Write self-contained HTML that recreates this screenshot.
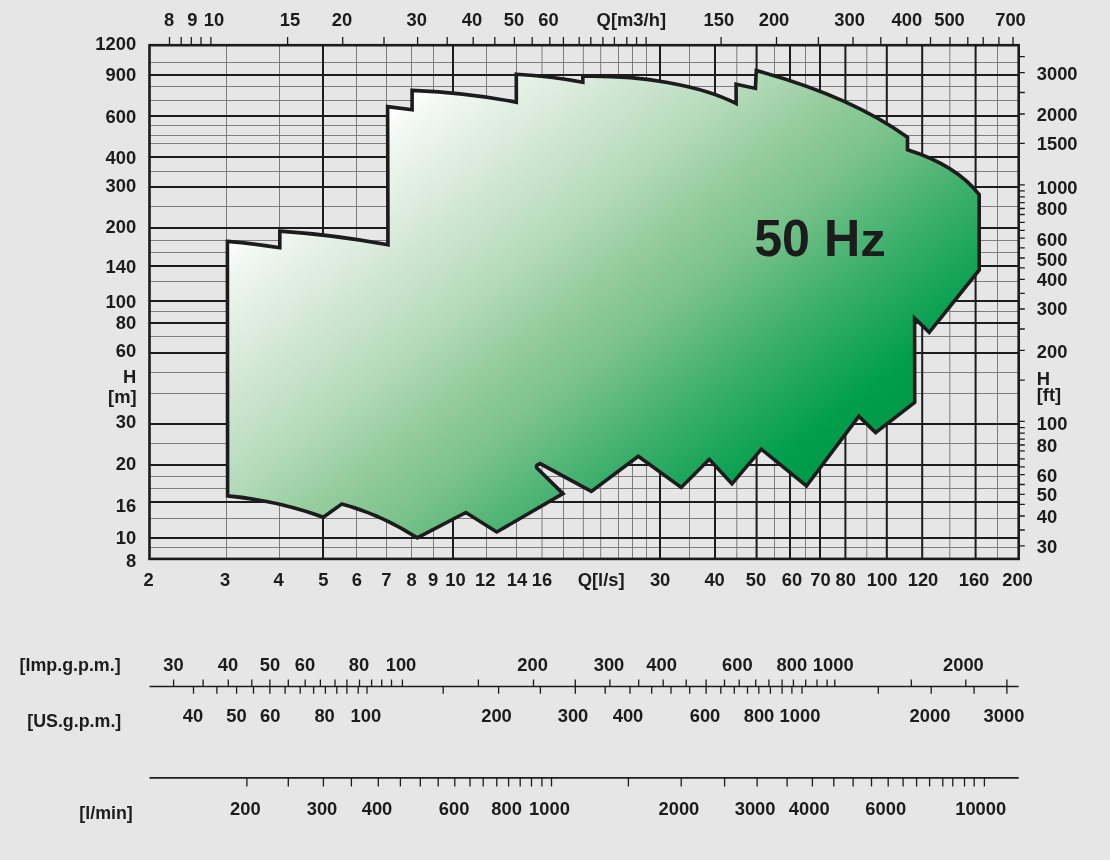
<!DOCTYPE html><html><head><meta charset="utf-8"><style>
html,body{margin:0;padding:0;background:#e6e6e6;}
svg{display:block;}
text{font-family:"Liberation Sans",Arial,Helvetica,sans-serif;font-weight:bold;fill:#1c1c1c;}
</style></head><body>
<svg width="1110" height="860" viewBox="0 0 1110 860">
<defs><linearGradient id="g" gradientUnits="userSpaceOnUse" x1="204.5" y1="259.0" x2="545.4" y2="690.6"><stop offset="0.000" stop-color="#ffffff"/><stop offset="0.045" stop-color="#f1f7f2"/><stop offset="0.220" stop-color="#d1e6d3"/><stop offset="0.355" stop-color="#b5dbbb"/><stop offset="0.476" stop-color="#96cc9e"/><stop offset="0.593" stop-color="#7ac28b"/><stop offset="0.747" stop-color="#40b06e"/><stop offset="0.935" stop-color="#009e4d"/><stop offset="1.000" stop-color="#009a48"/></linearGradient></defs>
<rect width="1110" height="860" fill="#e6e6e6"/>
<path d="M149.5 62.50H1018.7M149.5 86.50H1018.7M149.5 100.50H1018.7M149.5 125.50H1018.7M149.5 135.50H1018.7M149.5 143.50H1018.7M149.5 171.50H1018.7M149.5 206.50H1018.7M149.5 240.50H1018.7M149.5 252.50H1018.7M149.5 281.50H1018.7M149.5 311.50H1018.7M149.5 336.50H1018.7M149.5 372.50H1018.7M149.5 393.50H1018.7M149.5 443.50H1018.7M149.5 476.50H1018.7M149.5 488.50H1018.7M149.5 518.50H1018.7M149.5 547.50H1018.7M226.50 45.2V558.9M279.50 45.2V558.9M356.50 45.2V558.9M386.50 45.2V558.9M411.50 45.2V558.9M433.50 45.2V558.9M486.50 45.2V558.9M516.50 45.2V558.9M542.00 45.2V558.9M563.50 45.2V558.9M583.30 45.2V558.9M600.70 45.2V558.9M618.50 45.2V558.9M632.50 45.2V558.9M646.50 45.2V558.9M689.50 45.2V558.9M736.80 45.2V558.9M774.50 45.2V558.9M805.50 45.2V558.9M866.80 45.2V558.9M949.80 45.2V558.9M997.50 45.2V558.9" stroke="#7d7d7d" stroke-width="1" fill="none"/>
<path d="M149.5 75.00H1018.7M149.5 116.00H1018.7M149.5 157.00H1018.7M149.5 187.00H1018.7M149.5 228.00H1018.7M149.5 266.00H1018.7M149.5 301.00H1018.7M149.5 323.00H1018.7M149.5 353.00H1018.7M149.5 424.00H1018.7M149.5 465.00H1018.7M149.5 502.00H1018.7M149.5 538.00H1018.7M323.00 45.2V558.9M453.00 45.2V558.9M660.00 45.2V558.9M715.00 45.2V558.9M756.60 45.2V558.9M790.00 45.2V558.9M820.00 45.2V558.9M845.40 45.2V558.9M886.80 45.2V558.9M922.20 45.2V558.9M975.60 45.2V558.9" stroke="#1c1c1c" stroke-width="2" fill="none"/>
<rect x="149.5" y="45.2" width="869.2" height="513.7" fill="none" stroke="#1c1c1c" stroke-width="2.6"/>
<path d="M169.50 37V45.2M181.20 37V45.2M191.30 37V45.2M201.00 37V45.2M210.90 37V45.2M287.60 37V45.2M342.70 37V45.2M384.00 37V45.2M417.60 37V45.2M447.20 37V45.2M473.20 37V45.2M494.80 37V45.2M514.40 37V45.2M532.20 37V45.2M549.80 37V45.2M563.40 37V45.2M579.20 37V45.2M590.80 37V45.2M602.90 37V45.2M614.40 37V45.2M626.80 37V45.2M636.60 37V45.2M646.10 37V45.2M721.10 37V45.2M776.50 37V45.2M818.40 37V45.2M853.00 37V45.2M880.80 37V45.2M906.80 37V45.2M930.50 37V45.2M950.00 37V45.2M967.80 37V45.2M983.20 37V45.2M998.90 37V45.2M1013.00 37V45.2M1018.7 56.70H1024.8M1018.7 72.60H1024.8M1018.7 92.50H1024.8M1018.7 114.00H1024.8M1018.7 143.30H1024.8M1018.7 184.80H1024.8M1018.7 190.80H1024.8M1018.7 196.90H1024.8M1018.7 202.60H1024.8M1018.7 208.50H1024.8M1018.7 214.50H1024.8M1018.7 222.40H1024.8M1018.7 230.40H1024.8M1018.7 238.20H1024.8M1018.7 247.80H1024.8M1018.7 258.00H1024.8M1018.7 267.80H1024.8M1018.7 279.40H1024.8M1018.7 293.30H1024.8M1018.7 309.00H1024.8M1018.7 329.00H1024.8M1018.7 350.30H1024.8M1018.7 380.20H1024.8M1018.7 421.30H1024.8M1018.7 427.60H1024.8M1018.7 433.10H1024.8M1018.7 439.10H1024.8M1018.7 445.00H1024.8M1018.7 450.90H1024.8M1018.7 458.80H1024.8M1018.7 466.80H1024.8M1018.7 474.70H1024.8M1018.7 484.50H1024.8M1018.7 494.40H1024.8M1018.7 504.30H1024.8M1018.7 516.00H1024.8M1018.7 530.00H1024.8M1018.7 545.80H1024.8" stroke="#1c1c1c" stroke-width="1.3" fill="none"/>
<path d="M227.4 241.4 Q253 243.5 279.8 247.7 L279.8 231.1 Q336 235 388 244.8 L387.6 106.6 L412.1 109.7 L412.1 90.4 Q470 93 516.3 102.2 L516.3 74.2 Q552 76.2 582.8 82.3 L582.8 76.2 C640 75 700 85 736.1 103.5 L736.1 84.2 L755.4 88.4 L756.3 70.5 C820 88 870 110 907.5 137.3 L907.5 149.7 C940 160 965 176 979.2 194.7 L979.2 270 L929.2 332.4 L914.6 318.2 L914.7 402.3 L875.6 432.6 L858.8 416.3 L806.5 486 L761.3 449.2 L732 483.9 L709.3 459.3 L681.2 487.4 L638.3 456.2 L591.4 491.4 L540 463.6 Q534.8 465.6 537.2 468.2 L563 493.6 L496.7 532 L465.9 512.5 L417.2 537.8 Q380 514 341.6 504.1 L323.3 517.3 Q280 501 227.6 495.9 Z" fill="url(#g)" stroke="#1c1c1c" stroke-width="3.6" stroke-linejoin="miter" stroke-miterlimit="10"/>
<text transform="translate(820 255.8) scale(0.985 1)" font-size="51" text-anchor="middle">50 H<tspan font-size="46.5" textLength="26" lengthAdjust="spacingAndGlyphs">z</tspan></text>
<text transform="translate(169.0 25.8) scale(1.050 1)" font-size="17.5" text-anchor="middle">8</text>
<text transform="translate(192.4 25.8) scale(1.050 1)" font-size="17.5" text-anchor="middle">9</text>
<text transform="translate(214.0 25.8) scale(1.050 1)" font-size="17.5" text-anchor="middle">10</text>
<text transform="translate(290.0 25.8) scale(1.050 1)" font-size="17.5" text-anchor="middle">15</text>
<text transform="translate(342.0 25.8) scale(1.050 1)" font-size="17.5" text-anchor="middle">20</text>
<text transform="translate(416.8 25.8) scale(1.050 1)" font-size="17.5" text-anchor="middle">30</text>
<text transform="translate(472.0 25.8) scale(1.050 1)" font-size="17.5" text-anchor="middle">40</text>
<text transform="translate(514.0 25.8) scale(1.050 1)" font-size="17.5" text-anchor="middle">50</text>
<text transform="translate(548.5 25.8) scale(1.050 1)" font-size="17.5" text-anchor="middle">60</text>
<text transform="translate(631.3 25.8) scale(1.050 1)" font-size="17.5" text-anchor="middle">Q[m3/h]</text>
<text transform="translate(718.8 25.8) scale(1.050 1)" font-size="17.5" text-anchor="middle">150</text>
<text transform="translate(774.0 25.8) scale(1.050 1)" font-size="17.5" text-anchor="middle">200</text>
<text transform="translate(849.7 25.8) scale(1.050 1)" font-size="17.5" text-anchor="middle">300</text>
<text transform="translate(906.8 25.8) scale(1.050 1)" font-size="17.5" text-anchor="middle">400</text>
<text transform="translate(949.5 25.8) scale(1.050 1)" font-size="17.5" text-anchor="middle">500</text>
<text transform="translate(1010.5 25.8) scale(1.050 1)" font-size="17.5" text-anchor="middle">700</text>
<text transform="translate(148.5 586.3) scale(1.050 1)" font-size="17.5" text-anchor="middle">2</text>
<text transform="translate(225.2 586.3) scale(1.050 1)" font-size="17.5" text-anchor="middle">3</text>
<text transform="translate(278.7 586.3) scale(1.050 1)" font-size="17.5" text-anchor="middle">4</text>
<text transform="translate(323.3 586.3) scale(1.050 1)" font-size="17.5" text-anchor="middle">5</text>
<text transform="translate(356.9 586.3) scale(1.050 1)" font-size="17.5" text-anchor="middle">6</text>
<text transform="translate(386.4 586.3) scale(1.050 1)" font-size="17.5" text-anchor="middle">7</text>
<text transform="translate(411.7 586.3) scale(1.050 1)" font-size="17.5" text-anchor="middle">8</text>
<text transform="translate(433.2 586.3) scale(1.050 1)" font-size="17.5" text-anchor="middle">9</text>
<text transform="translate(455.4 586.3) scale(1.050 1)" font-size="17.5" text-anchor="middle">10</text>
<text transform="translate(485.2 586.3) scale(1.050 1)" font-size="17.5" text-anchor="middle">12</text>
<text transform="translate(516.9 586.3) scale(1.050 1)" font-size="17.5" text-anchor="middle">14</text>
<text transform="translate(542.0 586.3) scale(1.050 1)" font-size="17.5" text-anchor="middle">16</text>
<text transform="translate(601.1 586.3) scale(1.050 1)" font-size="17.5" text-anchor="middle">Q[l/s]</text>
<text transform="translate(660.1 586.3) scale(1.050 1)" font-size="17.5" text-anchor="middle">30</text>
<text transform="translate(714.6 586.3) scale(1.050 1)" font-size="17.5" text-anchor="middle">40</text>
<text transform="translate(756.0 586.3) scale(1.050 1)" font-size="17.5" text-anchor="middle">50</text>
<text transform="translate(791.9 586.3) scale(1.050 1)" font-size="17.5" text-anchor="middle">60</text>
<text transform="translate(820.5 586.3) scale(1.050 1)" font-size="17.5" text-anchor="middle">70</text>
<text transform="translate(845.7 586.3) scale(1.050 1)" font-size="17.5" text-anchor="middle">80</text>
<text transform="translate(882.2 586.3) scale(1.050 1)" font-size="17.5" text-anchor="middle">100</text>
<text transform="translate(923.0 586.3) scale(1.050 1)" font-size="17.5" text-anchor="middle">120</text>
<text transform="translate(974.0 586.3) scale(1.050 1)" font-size="17.5" text-anchor="middle">160</text>
<text transform="translate(1017.5 586.3) scale(1.050 1)" font-size="17.5" text-anchor="middle">200</text>
<text transform="translate(136.2 50.4) scale(1.050 1)" font-size="17.5" text-anchor="end">1200</text>
<text transform="translate(136.2 80.6) scale(1.050 1)" font-size="17.5" text-anchor="end">900</text>
<text transform="translate(136.2 123.4) scale(1.050 1)" font-size="17.5" text-anchor="end">600</text>
<text transform="translate(136.2 163.9) scale(1.050 1)" font-size="17.5" text-anchor="end">400</text>
<text transform="translate(136.2 192.3) scale(1.050 1)" font-size="17.5" text-anchor="end">300</text>
<text transform="translate(136.2 233.2) scale(1.050 1)" font-size="17.5" text-anchor="end">200</text>
<text transform="translate(136.2 273.3) scale(1.050 1)" font-size="17.5" text-anchor="end">140</text>
<text transform="translate(136.2 307.6) scale(1.050 1)" font-size="17.5" text-anchor="end">100</text>
<text transform="translate(136.2 329.0) scale(1.050 1)" font-size="17.5" text-anchor="end">80</text>
<text transform="translate(136.2 357.1) scale(1.050 1)" font-size="17.5" text-anchor="end">60</text>
<text transform="translate(136.2 383.0) scale(1.050 1)" font-size="17.5" text-anchor="end">H</text>
<text transform="translate(136.2 428.2) scale(1.050 1)" font-size="17.5" text-anchor="end">30</text>
<text transform="translate(136.2 470.1) scale(1.050 1)" font-size="17.5" text-anchor="end">20</text>
<text transform="translate(136.2 511.6) scale(1.050 1)" font-size="17.5" text-anchor="end">16</text>
<text transform="translate(136.2 543.9) scale(1.050 1)" font-size="17.5" text-anchor="end">10</text>
<text transform="translate(136.2 566.9) scale(1.050 1)" font-size="17.5" text-anchor="end">8</text>
<text transform="translate(136.6 403.2) scale(1.050 1)" font-size="17.5" text-anchor="end">[m]</text>
<text transform="translate(1036.7 79.5) scale(1.050 1)" font-size="17.5" text-anchor="start">3000</text>
<text transform="translate(1036.7 120.7) scale(1.050 1)" font-size="17.5" text-anchor="start">2000</text>
<text transform="translate(1036.7 149.7) scale(1.050 1)" font-size="17.5" text-anchor="start">1500</text>
<text transform="translate(1036.7 193.7) scale(1.050 1)" font-size="17.5" text-anchor="start">1000</text>
<text transform="translate(1036.7 215.0) scale(1.050 1)" font-size="17.5" text-anchor="start">800</text>
<text transform="translate(1036.7 246.2) scale(1.050 1)" font-size="17.5" text-anchor="start">600</text>
<text transform="translate(1036.7 265.7) scale(1.050 1)" font-size="17.5" text-anchor="start">500</text>
<text transform="translate(1036.7 285.5) scale(1.050 1)" font-size="17.5" text-anchor="start">400</text>
<text transform="translate(1036.7 315.2) scale(1.050 1)" font-size="17.5" text-anchor="start">300</text>
<text transform="translate(1036.7 358.1) scale(1.050 1)" font-size="17.5" text-anchor="start">200</text>
<text transform="translate(1036.7 384.5) scale(1.050 1)" font-size="17.5" text-anchor="start">H</text>
<text transform="translate(1036.7 430.2) scale(1.050 1)" font-size="17.5" text-anchor="start">100</text>
<text transform="translate(1036.7 452.0) scale(1.050 1)" font-size="17.5" text-anchor="start">80</text>
<text transform="translate(1036.7 481.5) scale(1.050 1)" font-size="17.5" text-anchor="start">60</text>
<text transform="translate(1036.7 501.1) scale(1.050 1)" font-size="17.5" text-anchor="start">50</text>
<text transform="translate(1036.7 523.4) scale(1.050 1)" font-size="17.5" text-anchor="start">40</text>
<text transform="translate(1036.7 552.8) scale(1.050 1)" font-size="17.5" text-anchor="start">30</text>
<text transform="translate(1036.7 400.5) scale(1.050 1)" font-size="17.5" text-anchor="start">[ft]</text>
<path d="M149.5 686.5H1018.7" stroke="#1c1c1c" stroke-width="1.4"/>
<path d="M173.60 679.5V686.5M203.10 679.5V686.5M228.30 679.5V686.5M251.80 679.5V686.5M269.90 679.5V686.5M288.30 679.5V686.5M305.20 679.5V686.5M320.40 679.5V686.5M335.00 679.5V686.5M346.90 679.5V686.5M359.50 679.5V686.5M371.60 679.5V686.5M381.70 679.5V686.5M391.50 679.5V686.5M402.40 679.5V686.5M478.40 679.5V686.5M533.50 679.5V686.5M575.30 679.5V686.5M609.90 679.5V686.5M638.70 679.5V686.5M663.20 679.5V686.5M686.20 679.5V686.5M706.10 679.5V686.5M724.50 679.5V686.5M739.20 679.5V686.5M755.70 679.5V686.5M768.90 679.5V686.5M782.10 679.5V686.5M793.40 679.5V686.5M805.70 679.5V686.5M817.00 679.5V686.5M827.10 679.5V686.5M834.80 679.5V686.5M911.30 679.5V686.5M965.80 679.5V686.5M1006.90 679.5V686.5M193.50 686.5V693.8M216.90 686.5V693.8M236.60 686.5V693.8M253.50 686.5V693.8M269.90 686.5V693.8M285.10 686.5V693.8M300.20 686.5V693.8M313.60 686.5V693.8M325.40 686.5V693.8M336.80 686.5V693.8M346.90 686.5V693.8M358.20 686.5V693.8M367.00 686.5V693.8M443.20 686.5V693.8M498.60 686.5V693.8M540.40 686.5V693.8M575.30 686.5V693.8M605.20 686.5V693.8M630.00 686.5V693.8M651.70 686.5V693.8M671.00 686.5V693.8M689.70 686.5V693.8M706.10 686.5V693.8M720.80 686.5V693.8M734.30 686.5V693.8M747.50 686.5V693.8M758.80 686.5V693.8M770.40 686.5V693.8M782.10 686.5V693.8M791.90 686.5V693.8M802.00 686.5V693.8M878.30 686.5V693.8M931.20 686.5V693.8M974.10 686.5V693.8M1006.90 686.5V693.8" stroke="#1c1c1c" stroke-width="1.3" fill="none"/>
<text transform="translate(173.5 671.0) scale(1.050 1)" font-size="17.5" text-anchor="middle">30</text>
<text transform="translate(228.0 671.0) scale(1.050 1)" font-size="17.5" text-anchor="middle">40</text>
<text transform="translate(270.0 671.0) scale(1.050 1)" font-size="17.5" text-anchor="middle">50</text>
<text transform="translate(305.0 671.0) scale(1.050 1)" font-size="17.5" text-anchor="middle">60</text>
<text transform="translate(359.0 671.0) scale(1.050 1)" font-size="17.5" text-anchor="middle">80</text>
<text transform="translate(401.0 671.0) scale(1.050 1)" font-size="17.5" text-anchor="middle">100</text>
<text transform="translate(532.6 671.0) scale(1.050 1)" font-size="17.5" text-anchor="middle">200</text>
<text transform="translate(609.0 671.0) scale(1.050 1)" font-size="17.5" text-anchor="middle">300</text>
<text transform="translate(661.7 671.0) scale(1.050 1)" font-size="17.5" text-anchor="middle">400</text>
<text transform="translate(737.4 671.0) scale(1.050 1)" font-size="17.5" text-anchor="middle">600</text>
<text transform="translate(791.9 671.0) scale(1.050 1)" font-size="17.5" text-anchor="middle">800</text>
<text transform="translate(833.2 671.0) scale(1.050 1)" font-size="17.5" text-anchor="middle">1000</text>
<text transform="translate(963.4 671.0) scale(1.050 1)" font-size="17.5" text-anchor="middle">2000</text>
<text transform="translate(120.6 670.5) scale(1.020 1)" font-size="17.5" text-anchor="end">[Imp.g.p.m.]</text>
<text transform="translate(193.0 722.3) scale(1.050 1)" font-size="17.5" text-anchor="middle">40</text>
<text transform="translate(236.5 722.3) scale(1.050 1)" font-size="17.5" text-anchor="middle">50</text>
<text transform="translate(270.3 722.3) scale(1.050 1)" font-size="17.5" text-anchor="middle">60</text>
<text transform="translate(324.6 722.3) scale(1.050 1)" font-size="17.5" text-anchor="middle">80</text>
<text transform="translate(365.8 722.3) scale(1.050 1)" font-size="17.5" text-anchor="middle">100</text>
<text transform="translate(496.5 722.3) scale(1.050 1)" font-size="17.5" text-anchor="middle">200</text>
<text transform="translate(573.0 722.3) scale(1.050 1)" font-size="17.5" text-anchor="middle">300</text>
<text transform="translate(628.0 722.3) scale(1.050 1)" font-size="17.5" text-anchor="middle">400</text>
<text transform="translate(705.0 722.3) scale(1.050 1)" font-size="17.5" text-anchor="middle">600</text>
<text transform="translate(759.0 722.3) scale(1.050 1)" font-size="17.5" text-anchor="middle">800</text>
<text transform="translate(800.0 722.3) scale(1.050 1)" font-size="17.5" text-anchor="middle">1000</text>
<text transform="translate(930.0 722.3) scale(1.050 1)" font-size="17.5" text-anchor="middle">2000</text>
<text transform="translate(1004.0 722.3) scale(1.050 1)" font-size="17.5" text-anchor="middle">3000</text>
<text transform="translate(121.3 726.6) scale(1.020 1)" font-size="17.5" text-anchor="end">[US.g.p.m.]</text>
<path d="M149.5 777.9H1018.7" stroke="#1c1c1c" stroke-width="1.8"/>
<path d="M246.90 777.9V786.4M288.30 777.9V786.4M323.40 777.9V786.4M351.40 777.9V786.4M378.30 777.9V786.4M400.40 777.9V786.4M420.30 777.9V786.4M438.20 777.9V786.4M454.80 777.9V786.4M470.00 777.9V786.4M483.20 777.9V786.4M496.80 777.9V786.4M508.60 777.9V786.4M520.20 777.9V786.4M531.50 777.9V786.4M541.90 777.9V786.4M551.50 777.9V786.4M628.40 777.9V786.4M681.20 777.9V786.4M724.60 777.9V786.4M757.10 777.9V786.4M787.10 777.9V786.4M812.40 777.9V786.4M833.80 777.9V786.4M853.10 777.9V786.4M871.50 777.9V786.4M888.20 777.9V786.4M903.10 777.9V786.4M916.60 777.9V786.4M929.60 777.9V786.4M942.80 777.9V786.4M952.80 777.9V786.4M964.50 777.9V786.4M974.20 777.9V786.4M984.40 777.9V786.4" stroke="#1c1c1c" stroke-width="1.3" fill="none"/>
<text transform="translate(245.3 815.3) scale(1.050 1)" font-size="17.5" text-anchor="middle">200</text>
<text transform="translate(322.0 815.3) scale(1.050 1)" font-size="17.5" text-anchor="middle">300</text>
<text transform="translate(377.0 815.3) scale(1.050 1)" font-size="17.5" text-anchor="middle">400</text>
<text transform="translate(454.2 815.3) scale(1.050 1)" font-size="17.5" text-anchor="middle">600</text>
<text transform="translate(506.7 815.3) scale(1.050 1)" font-size="17.5" text-anchor="middle">800</text>
<text transform="translate(549.5 815.3) scale(1.050 1)" font-size="17.5" text-anchor="middle">1000</text>
<text transform="translate(678.9 815.3) scale(1.050 1)" font-size="17.5" text-anchor="middle">2000</text>
<text transform="translate(755.1 815.3) scale(1.050 1)" font-size="17.5" text-anchor="middle">3000</text>
<text transform="translate(809.2 815.3) scale(1.050 1)" font-size="17.5" text-anchor="middle">4000</text>
<text transform="translate(885.7 815.3) scale(1.050 1)" font-size="17.5" text-anchor="middle">6000</text>
<text transform="translate(980.7 815.3) scale(1.050 1)" font-size="17.5" text-anchor="middle">10000</text>
<text transform="translate(132.8 819.3) scale(1.020 1)" font-size="17.5" text-anchor="end">[l/min]</text>
</svg></body></html>
